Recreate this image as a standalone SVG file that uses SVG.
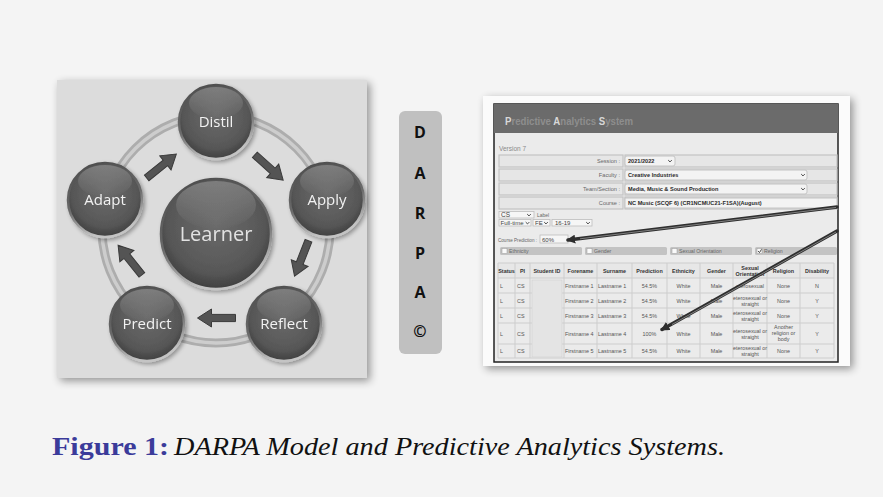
<svg xmlns="http://www.w3.org/2000/svg" width="883" height="497" viewBox="0 0 883 497">
  <defs>
    <filter id="panel-shadow" x="-10%" y="-10%" width="125%" height="125%">
      <feGaussianBlur in="SourceAlpha" stdDeviation="4"/>
      <feOffset dx="3" dy="3"/>
      <feComponentTransfer><feFuncA type="linear" slope="0.4"/></feComponentTransfer>
      <feMerge><feMergeNode/><feMergeNode in="SourceGraphic"/></feMerge>
    </filter>
    <filter id="ball-shadow" x="-20%" y="-20%" width="150%" height="150%">
      <feGaussianBlur in="SourceAlpha" stdDeviation="2"/>
      <feOffset dx="1.5" dy="2"/>
      <feComponentTransfer><feFuncA type="linear" slope="0.35"/></feComponentTransfer>
      <feMerge><feMergeNode/><feMergeNode in="SourceGraphic"/></feMerge>
    </filter>
    <radialGradient id="ball" cx="50%" cy="42%" r="58%">
      <stop offset="0" stop-color="#6a6a6a"/>
      <stop offset="0.75" stop-color="#575757"/>
      <stop offset="1" stop-color="#3f3f3f"/>
    </radialGradient>
    <linearGradient id="ball-rim" x1="0" y1="0" x2="0.3" y2="1">
      <stop offset="0" stop-color="#4a4a4a"/>
      <stop offset="0.6" stop-color="#6a6a6a"/>
      <stop offset="1" stop-color="#c4c4c4"/>
    </linearGradient>
    <linearGradient id="gloss" x1="0" y1="0" x2="0" y2="1">
      <stop offset="0" stop-color="#ffffff" stop-opacity="0.22"/>
      <stop offset="1" stop-color="#ffffff" stop-opacity="0"/>
    </linearGradient>
    <!-- block arrow pointing along +x, centred on the origin -->
    <path id="block-arrow" d="M-19,-3.6 H5 V-9 L19,0 L5,9 V3.6 H-19 Z"/>
    <!-- dropdown chevron -->
    <path id="chev" d="M-1.8,-0.9 L0,0.9 L1.8,-0.9" fill="none" stroke="#333" stroke-width="0.9"/>
    <marker id="pointer" viewBox="0 0 10 10" refX="8" refY="5" markerWidth="9" markerHeight="9" markerUnits="userSpaceOnUse" orient="auto">
      <path d="M0,0 L10,5 L0,10 Z" fill="#2e2e2e"/>
    </marker>
  </defs>

  <style>
    .node-label { font-family: "Open Sans", "Noto Sans", sans-serif; font-size: 15px; fill: #f2f2f2; text-anchor: middle; }
    .cycle-arrow { fill: #545454; stroke: #3a3a3a; stroke-width: 1; }
    .darpa { font-family: "Open Sans", "Liberation Sans", sans-serif; font-weight: bold; font-size: 16px; fill: #111; text-anchor: middle; }
    .ui { font-family: "Liberation Sans", Arial, sans-serif; font-size: 5.6px; fill: #666; }
    .ui-in { font-family: "Liberation Sans", Arial, sans-serif; font-size: 5.6px; font-weight: bold; fill: #2a2a2a; }
    .row-box { fill: #e6e6e6; stroke: #c4c4c4; stroke-width: 1.2; }
    .in-box { fill: #f3f3f3; stroke: #c4c4c4; stroke-width: 1; }
    .sel { fill: #f6f6f6; stroke: #bdbdbd; stroke-width: 0.8; }
    .chk-bar { fill: #c3c3c3; }
    .chk { fill: #fafafa; stroke: #999; stroke-width: 0.5; }
    .grid { stroke: #cdcdcd; stroke-width: 1; fill: none; }
    .th { font-family: "Liberation Sans", Arial, sans-serif; font-size: 5.4px; font-weight: bold; fill: #333; text-anchor: middle; }
    .td { font-family: "Liberation Sans", Arial, sans-serif; font-size: 5.4px; fill: #555; text-anchor: middle; }
    .tdl { font-family: "Liberation Sans", Arial, sans-serif; font-size: 5.4px; fill: #555; }
    .pointer-line { stroke: #2e2e2e; stroke-width: 3.4; fill: none; stroke-linecap: round; }
    .pointer-glint { stroke: #8a8a8a; stroke-width: 0.9; fill: none; }
  </style>

  <!-- page -->
  <rect width="883" height="497" fill="#f4f4f4"/>

  <!-- ===== DARPA cycle panel ===== -->
  <rect x="57" y="80" width="310" height="298" fill="#dcdcdc" filter="url(#panel-shadow)"/>

  <!-- orbit ring -->
  <circle cx="216" cy="229" r="114" fill="none" stroke="#adadad" stroke-width="9"/>
  <circle cx="216" cy="229" r="114" fill="none" stroke="#cdcdcd" stroke-width="3.5"/>

  <g id="connectors">
    <use href="#block-arrow" class="cycle-arrow" transform="translate(161.5,166) rotate(-38.7)"/>
    <use href="#block-arrow" class="cycle-arrow" transform="translate(269,167.5) rotate(41.8)"/>
    <use href="#block-arrow" class="cycle-arrow" transform="translate(301.5,258.5) rotate(111.5)"/>
    <use href="#block-arrow" class="cycle-arrow" transform="translate(216.5,318) rotate(180)"/>
    <use href="#block-arrow" class="cycle-arrow" transform="translate(130,260) rotate(-128.7)"/>
  </g>

  <g id="node-learner" filter="url(#ball-shadow)">
    <circle cx="216" cy="234" r="55" fill="url(#ball)" stroke="url(#ball-rim)" stroke-width="2.5"/>
    <ellipse cx="216" cy="205" rx="40" ry="24" fill="url(#gloss)"/>
    <text x="216" y="241" class="node-label" style="font-size:20px; fill:#e2e2e2">Learner</text>
  </g>

  <g id="node-distil" filter="url(#ball-shadow)">
    <circle cx="216" cy="122" r="37" fill="url(#ball)" stroke="url(#ball-rim)" stroke-width="2.5"/>
    <ellipse cx="216" cy="103" rx="27" ry="16" fill="url(#gloss)"/>
    <text x="216" y="127" class="node-label">Distil</text>
  </g>

  <g id="node-apply" filter="url(#ball-shadow)">
    <circle cx="327" cy="200" r="37" fill="url(#ball)" stroke="url(#ball-rim)" stroke-width="2.5"/>
    <ellipse cx="327" cy="181" rx="27" ry="16" fill="url(#gloss)"/>
    <text x="327" y="205" class="node-label">Apply</text>
  </g>

  <g id="node-reflect" filter="url(#ball-shadow)">
    <circle cx="284" cy="324" r="37" fill="url(#ball)" stroke="url(#ball-rim)" stroke-width="2.5"/>
    <ellipse cx="284" cy="305" rx="27" ry="16" fill="url(#gloss)"/>
    <text x="284" y="329" class="node-label">Reflect</text>
  </g>

  <g id="node-predict" filter="url(#ball-shadow)">
    <circle cx="147" cy="324" r="37" fill="url(#ball)" stroke="url(#ball-rim)" stroke-width="2.5"/>
    <ellipse cx="147" cy="305" rx="27" ry="16" fill="url(#gloss)"/>
    <text x="147" y="329" class="node-label">Predict</text>
  </g>

  <g id="node-adapt" filter="url(#ball-shadow)">
    <circle cx="105" cy="200" r="37" fill="url(#ball)" stroke="url(#ball-rim)" stroke-width="2.5"/>
    <ellipse cx="105" cy="181" rx="27" ry="16" fill="url(#gloss)"/>
    <text x="105" y="205" class="node-label">Adapt</text>
  </g>

  <!-- ===== DARPA letter bar ===== -->
  <g id="darpa-bar">
    <rect x="399" y="111" width="43" height="243" rx="6" fill="#c0c0c0"/>
    <text x="420" y="138" class="darpa">D</text>
    <text x="420" y="179" class="darpa">A</text>
    <text x="420" y="219" class="darpa">R</text>
    <text x="420" y="259" class="darpa">P</text>
    <text x="420" y="298" class="darpa">A</text>
    <text x="420" y="337" class="darpa">©</text>
  </g>

  <!-- ===== Predictive Analytics System screen ===== -->
  <g id="analytics-screen">
    <rect x="483" y="96" width="367" height="270" fill="#fbfbfb" filter="url(#panel-shadow)"/>
    <rect x="494" y="104" width="344" height="258" fill="#ebebeb" stroke="#222" stroke-width="1.5"/>
    <rect x="494" y="104" width="344" height="29" fill="#6b6b6b"/>
    <text x="505" y="125" style="font-family:'Liberation Sans',Arial,sans-serif; font-weight:bold; font-size:10px; fill:#8e8e8e" textLength="128" lengthAdjust="spacingAndGlyphs"><tspan fill="#d8d8d8">P</tspan>redictive <tspan fill="#d8d8d8">A</tspan>nalytics <tspan fill="#d8d8d8">S</tspan>ystem</text>

    <text x="499" y="151" style="font-family:'Liberation Sans',Arial,sans-serif; font-size:8px; fill:#8a8a8a" textLength="27" lengthAdjust="spacingAndGlyphs">Version 7</text>

    <!-- form rows -->
    <rect x="499" y="155" width="124" height="12" class="row-box"/>
    <rect x="625" y="155" width="212" height="12" class="row-box"/>
    <rect x="625" y="156" width="50" height="10" rx="2" class="in-box"/>
    <text x="620" y="163" class="ui" text-anchor="end">Session :</text>
    <text x="628" y="163" class="ui-in">2021/2022</text>
    <use href="#chev" x="670" y="161"/>

    <rect x="499" y="169" width="124" height="12" class="row-box"/>
    <rect x="625" y="169" width="212" height="12" class="row-box"/>
    <rect x="625" y="170" width="182" height="10" rx="2" class="in-box"/>
    <text x="620" y="177" class="ui" text-anchor="end">Faculty :</text>
    <text x="628" y="177" class="ui-in">Creative Industries</text>
    <use href="#chev" x="803" y="175"/>

    <rect x="499" y="183" width="124" height="12" class="row-box"/>
    <rect x="625" y="183" width="212" height="12" class="row-box"/>
    <rect x="625" y="184" width="182" height="10" rx="2" class="in-box"/>
    <text x="620" y="191" class="ui" text-anchor="end">Team/Section :</text>
    <text x="628" y="191" class="ui-in">Media, Music &amp; Sound Production</text>
    <use href="#chev" x="803" y="189"/>

    <rect x="499" y="197" width="124" height="12" class="row-box"/>
    <rect x="625" y="197" width="212" height="12" class="row-box"/>
    <rect x="625" y="198" width="212" height="10" class="in-box"/>
    <text x="620" y="205" class="ui" text-anchor="end">Course :</text>
    <text x="628" y="205" class="ui-in">NC Music (SCQF 6) (CR1NCMUC21-F1SA)(August)</text>

    <!-- filters -->
    <rect x="499" y="211.5" width="35" height="6.5" class="sel"/>
    <text x="501" y="217" class="ui" style="font-size:6.5px; fill:#444">CS</text>
    <use href="#chev" x="529" y="215"/>
    <text x="537" y="217" class="ui" style="font-size:5px">Label</text>

    <rect x="499" y="219.5" width="32" height="6.5" class="sel"/>
    <text x="500.5" y="225" class="ui" style="font-size:5.6px; fill:#444" textLength="23" lengthAdjust="spacingAndGlyphs">Full-time</text>
    <use href="#chev" x="527.5" y="223"/>
    <rect x="533" y="219.5" width="17" height="6.5" class="sel"/>
    <text x="535" y="225" class="ui" style="font-size:6px; fill:#444">FE</text>
    <use href="#chev" x="546" y="223"/>
    <rect x="552" y="219.5" width="40" height="6.5" class="sel"/>
    <text x="555" y="225" class="ui" style="font-size:6px; fill:#444">16-19</text>
    <use href="#chev" x="588" y="223"/>

    <text x="498" y="241.5" class="ui" style="font-size:5px" textLength="39" lengthAdjust="spacingAndGlyphs">Course Prediction :</text>
    <rect x="540" y="235" width="28" height="8" class="sel"/>
    <text x="542" y="241.5" class="ui" style="font-size:6px; fill:#444">60%</text>

    <!-- attribute checkboxes -->
    <rect x="500" y="247" width="82" height="8" rx="1.5" class="chk-bar"/>
    <rect x="502" y="248.5" width="5" height="5" class="chk"/>
    <text x="509" y="253.3" class="ui" style="font-size:5.2px">Ethnicity</text>
    <rect x="585" y="247" width="82" height="8" rx="1.5" class="chk-bar"/>
    <rect x="587" y="248.5" width="5" height="5" class="chk"/>
    <text x="594" y="253.3" class="ui" style="font-size:5.2px">Gender</text>
    <rect x="670" y="247" width="82" height="8" rx="1.5" class="chk-bar"/>
    <rect x="672" y="248.5" width="5" height="5" class="chk"/>
    <text x="679" y="253.3" class="ui" style="font-size:5.2px">Sexual Orientation</text>
    <rect x="755" y="247" width="82" height="8" rx="1.5" class="chk-bar"/>
    <rect x="757" y="248.5" width="5" height="5" class="chk"/>
    <path d="M758,251 L759.5,252.6 L761.5,249.3" fill="none" stroke="#222" stroke-width="0.8"/>
    <text x="764" y="253.3" class="ui" style="font-size:5.2px">Religion</text>

    <!-- results table -->
    <rect x="498" y="263" width="336" height="15" fill="#e7e7e7"/>
    <path class="grid" d="M498,263 H834 M498,278 H834 M498,293 H834 M498,308 H834 M498,323 H834 M498,344 H834 M498,358 H834
                          M498,263 V358 M515,263 V358 M530,263 V358 M564,263 V358 M597,263 V358 M632,263 V358 M667,263 V358
                          M700,263 V358 M733,263 V358 M767,263 V358 M800,263 V358 M834,263 V358"/>
    <rect x="532" y="280" width="30" height="77" fill="#e4e4e4" stroke="#d4d4d4" stroke-width="0.8"/>

    <text x="506.5" y="272.5" class="th">Status</text>
    <text x="522.5" y="272.5" class="th">PI</text>
    <text x="547" y="272.5" class="th">Student ID</text>
    <text x="580.5" y="272.5" class="th">Forename</text>
    <text x="614.5" y="272.5" class="th">Surname</text>
    <text x="649.5" y="272.5" class="th">Prediction</text>
    <text x="683.5" y="272.5" class="th">Ethnicity</text>
    <text x="716.5" y="272.5" class="th">Gender</text>
    <text x="750" y="269.5" class="th">Sexual</text>
    <text x="750" y="275.5" class="th">Orientation</text>
    <text x="783.5" y="272.5" class="th">Religion</text>
    <text x="817" y="272.5" class="th">Disability</text>

    <!-- row 1 -->
    <text x="500" y="287.5" class="tdl">L</text>
    <text x="517" y="287.5" class="tdl">CS</text>
    <text x="565" y="287.5" class="tdl">Firstname 1</text>
    <text x="598" y="287.5" class="tdl">Lastname 1</text>
    <text x="649.5" y="287.5" class="td">54.5%</text>
    <text x="683.5" y="287.5" class="td">White</text>
    <text x="716.5" y="287.5" class="td">Male</text>
    <text x="750" y="287.5" class="td">eterosexual</text>
    <text x="783.5" y="287.5" class="td">None</text>
    <text x="817" y="287.5" class="td">N</text>

    <!-- row 2 -->
    <text x="500" y="302.5" class="tdl">L</text>
    <text x="517" y="302.5" class="tdl">CS</text>
    <text x="565" y="302.5" class="tdl">Firstname 2</text>
    <text x="598" y="302.5" class="tdl">Lastname 2</text>
    <text x="649.5" y="302.5" class="td">54.5%</text>
    <text x="683.5" y="302.5" class="td">White</text>
    <text x="716.5" y="302.5" class="td">Male</text>
    <text x="750" y="299.5" class="td">eterosexual or</text>
    <text x="750" y="305.5" class="td">straight</text>
    <text x="783.5" y="302.5" class="td">None</text>
    <text x="817" y="302.5" class="td">Y</text>

    <!-- row 3 -->
    <text x="500" y="317.5" class="tdl">L</text>
    <text x="517" y="317.5" class="tdl">CS</text>
    <text x="565" y="317.5" class="tdl">Firstname 3</text>
    <text x="598" y="317.5" class="tdl">Lastname 3</text>
    <text x="649.5" y="317.5" class="td">54.5%</text>
    <text x="683.5" y="317.5" class="td">White</text>
    <text x="716.5" y="317.5" class="td">Male</text>
    <text x="750" y="314.5" class="td">eterosexual or</text>
    <text x="750" y="320.5" class="td">straight</text>
    <text x="783.5" y="317.5" class="td">None</text>
    <text x="817" y="317.5" class="td">Y</text>

    <!-- row 4 -->
    <text x="500" y="335.5" class="tdl">L</text>
    <text x="517" y="335.5" class="tdl">CS</text>
    <text x="565" y="335.5" class="tdl">Firstname 4</text>
    <text x="598" y="335.5" class="tdl">Lastname 4</text>
    <text x="649.5" y="335.5" class="td">100%</text>
    <text x="683.5" y="335.5" class="td">White</text>
    <text x="716.5" y="335.5" class="td">Male</text>
    <text x="750" y="332.5" class="td">eterosexual or</text>
    <text x="750" y="338.5" class="td">straight</text>
    <text x="783.5" y="328.5" class="td">Another</text>
    <text x="783.5" y="334.5" class="td">religion or</text>
    <text x="783.5" y="340.5" class="td">body</text>
    <text x="817" y="335.5" class="td">Y</text>

    <!-- row 5 -->
    <text x="500" y="353" class="tdl">L</text>
    <text x="517" y="353" class="tdl">CS</text>
    <text x="565" y="353" class="tdl">Firstname 5</text>
    <text x="598" y="353" class="tdl">Lastname 5</text>
    <text x="649.5" y="353" class="td">54.5%</text>
    <text x="683.5" y="353" class="td">White</text>
    <text x="716.5" y="353" class="td">Male</text>
    <text x="750" y="350" class="td">eterosexual or</text>
    <text x="750" y="356" class="td">straight</text>
    <text x="783.5" y="353" class="td">None</text>
    <text x="817" y="353" class="td">Y</text>

    <!-- call-out pointers -->
    <line x1="837" y1="207" x2="568" y2="240" class="pointer-line" marker-end="url(#pointer)"/>
    <line x1="836" y1="207.5" x2="580" y2="238.8" class="pointer-glint"/>
    <line x1="837" y1="231" x2="662" y2="329.5" class="pointer-line" marker-end="url(#pointer)"/>
    <line x1="836" y1="232" x2="672" y2="324.5" class="pointer-glint"/>
  </g>

  <!-- caption -->
  <text x="52" y="455" style="font-family:'Liberation Serif','Times New Roman',serif; font-size:26px; font-weight:bold; fill:#3b3b9a" textLength="117" lengthAdjust="spacingAndGlyphs">Figure 1:</text>
  <text x="174" y="455" style="font-family:'Liberation Serif','Times New Roman',serif; font-size:26px; font-style:italic; fill:#111" textLength="551" lengthAdjust="spacingAndGlyphs">DARPA Model and Predictive Analytics Systems.</text>
</svg>
